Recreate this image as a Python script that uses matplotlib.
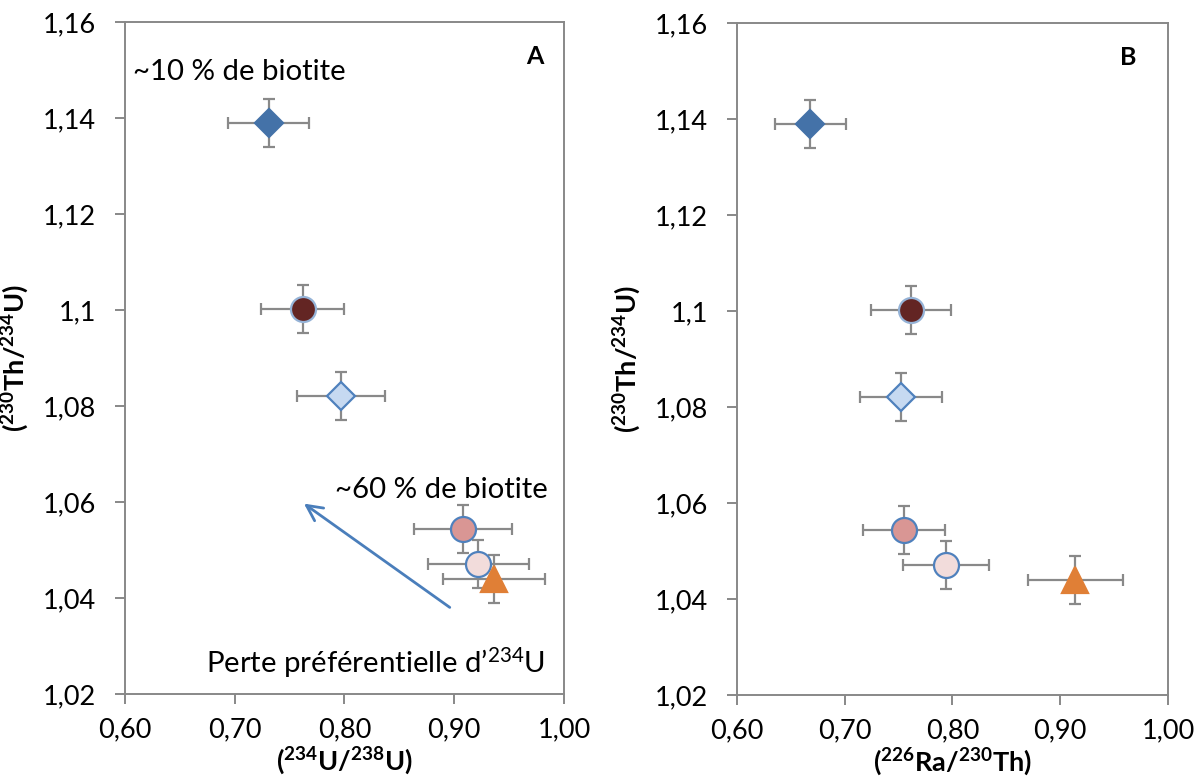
import matplotlib
matplotlib.use("Agg")
import matplotlib.pyplot as plt

plt.rcParams['font.family'] = ['Lato', 'DejaVu Sans']
plt.rcParams['mathtext.fontset'] = 'custom'
plt.rcParams['mathtext.rm'] = 'Lato'
plt.rcParams['mathtext.it'] = 'Lato:italic'
plt.rcParams['mathtext.bf'] = 'Lato:bold'

# ---- data ----
th_u = [1.139, 1.1002, 1.0821, 1.0543, 1.0471, 1.044]
th_u_err = [0.005, 0.005, 0.005, 0.005, 0.005, 0.005]
u_ratio = [0.731, 0.762, 0.797, 0.908, 0.922, 0.936]
u_ratio_err = [0.037, 0.038, 0.040, 0.045, 0.046, 0.0465]
ra_th = [0.668, 0.7615, 0.752, 0.7553, 0.794, 0.914]
ra_th_err = [0.033, 0.037, 0.038, 0.038, 0.040, 0.044]

markers = ['D', 'o', 'D', 'o', 'o', '^']
face_colors = ['#4472A8', '#632523', '#C6D9F1', '#D99694', '#F2DCDB', '#E07F36']
edge_colors = ['#4472A8', '#95B3D7', '#4F81BD', '#4F81BD', '#4F81BD', '#E07F36']
marker_sizes = [14.5, 18, 14.5, 18, 18, 19]

x_ticks = [0.60, 0.70, 0.80, 0.90, 1.00]
x_tick_labels = ['0,60', '0,70', '0,80', '0,90', '1,00']
y_ticks = [1.02, 1.04, 1.06, 1.08, 1.10, 1.12, 1.14, 1.16]
y_tick_labels = ['1,02', '1,04', '1,06', '1,08', '1,1', '1,12', '1,14', '1,16']

fig = plt.figure(figsize=(12.03, 7.83), dpi=100)
axA = fig.add_axes([0.1039, 0.1137, 0.3649, 0.8582])
axB = fig.add_axes([0.6126, 0.1124, 0.3583, 0.8582])

spine_col = '#888888'
err_col = '#898989'

def style(ax, xlabel, panel, px):
    ax.set_xlim(0.60, 1.00)
    ax.set_ylim(1.02, 1.16)
    ax.set_xticks(x_ticks)
    ax.set_xticklabels(x_tick_labels)
    ax.set_yticks(y_ticks)
    ax.set_yticklabels(y_tick_labels)
    for s in ax.spines.values():
        s.set_color(spine_col)
        s.set_linewidth(1.4)
    ax.tick_params(axis='both', direction='out', length=7, width=1.4,
                   color=spine_col, labelsize=19.5, labelcolor='black')
    ax.tick_params(axis='y', pad=14)
    ax.tick_params(axis='x', pad=10)
    ax.set_xlabel(xlabel, fontsize=19.5, labelpad=2)
    ax.set_ylabel(r'$\mathbf{(^{230}Th/^{234}U)}$', fontsize=19.5, labelpad=8)
    ax.text(px, 0.948, panel, transform=ax.transAxes, fontsize=18,
            fontweight='bold', ha='center', va='center')

def plot_points(ax, xs, xerrs):
    for i in range(len(xs)):
        ax.errorbar(xs[i], th_u[i], xerr=xerrs[i], yerr=th_u_err[i],
                    fmt='none', ecolor=err_col, elinewidth=1.6,
                    capsize=4.5, capthick=1.6, zorder=2)
        ax.plot(xs[i], th_u[i], linestyle='none', marker=markers[i],
                markersize=marker_sizes[i], markerfacecolor=face_colors[i],
                markeredgecolor=edge_colors[i], markeredgewidth=1.6, zorder=3)

plot_points(axA, u_ratio, u_ratio_err)
plot_points(axB, ra_th, ra_th_err)

style(axA, r'$\mathbf{(^{234}U/^{238}U)}$', 'A', 0.934)
style(axB, r'$\mathbf{(^{226}Ra/^{230}Th)}$', 'B', 0.907)

axA.text(0.6075, 1.1495, '~10 % de biotite', fontsize=21.2, ha='left', va='center')
axA.text(0.9855, 1.0625, '~60 % de biotite', fontsize=21.2, ha='right', va='center')
axA.text(0.9825, 1.0265, 'Perte préférentielle d\u2019$^{234}$U', fontsize=21.2,
         ha='right', va='center')
axA.annotate('', xy=(0.761, 1.0600), xytext=(0.898, 1.0377),
             arrowprops=dict(arrowstyle='->', color='#4A7EBB', lw=2.0,
                             mutation_scale=28))

fig.savefig('out.png', dpi=100)
